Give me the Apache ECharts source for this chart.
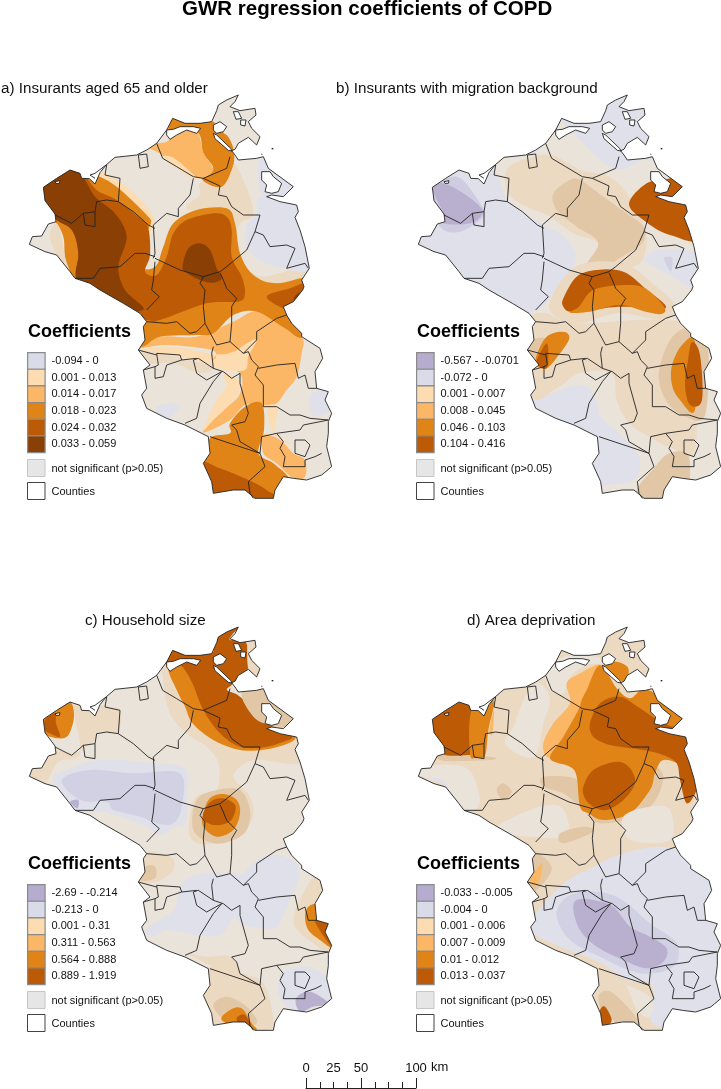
<!DOCTYPE html>
<html><head><meta charset="utf-8">
<style>html,body{margin:0;padding:0;background:#fff;overflow:hidden}#c{width:721px;height:1089px}</style>
<script src="https://cdn.jsdelivr.net/npm/echarts@6/dist/echarts.min.js"></script>
</head><body><div id="c"></div>
<script>
const colors={P:'#b9b0d0',Pl:'#cfcbe0',V:'#dfe0e9',Vd:'#d2d1e3',E:'#eae3d9',Em:'#ebd9c2',Ed:'#e2c7a7',L:'#fcdcb0',M:'#fbb765',O:'#e08417',B:'#bd5a05',D:'#8a3f05'};
const outline=[[88,493],[97,470],[125,468],[145,432],[168,425],[165,402],[135,362],[130,322],[170,295],[210,270],[240,280],[245,295],[268,296],[285,312],[300,278],[318,255],[345,232],[410,225],[440,210],[470,190],[500,150],[518,115],[555,130],[600,130],[635,125],[650,92],[655,75],[680,60],[715,45],[705,65],[690,80],[720,92],[765,85],[768,105],[745,125],[755,145],[780,170],[770,195],[745,172],[715,190],[705,208],[695,212],[705,225],[715,240],[770,235],[790,230],[805,265],[880,320],[850,350],[815,345],[800,350],[840,365],[890,375],[895,395],[885,412],[900,450],[915,500],[928,565],[905,600],[912,620],[908,630],[880,665],[850,680],[860,705],[875,730],[905,760],[905,770],[960,805],[968,835],[945,875],[950,925],[985,935],[975,960],[995,1000],[985,1025],[985,1060],[980,1100],[995,1160],[965,1185],[920,1200],[880,1195],[850,1190],[825,1230],[820,1255],[765,1255],[735,1230],[700,1230],[640,1240],[635,1205],[610,1150],[630,1120],[625,1070],[555,1035],[500,1015],[440,985],[425,945],[440,925],[430,870],[450,855],[415,810],[435,780],[430,740],[440,725],[420,700],[370,670],[300,630],[270,610],[225,595],[210,575],[170,525],[135,515]];
const holes=[[[500,150],[520,148],[540,140],[580,140],[602,145],[590,160],[560,150],[530,165],[510,178],[500,165]],[[640,135],[660,125],[680,140],[670,155],[650,160],[640,150]],[[640,160],[650,165],[692,205],[696,213],[685,211],[645,176]],[[785,275],[810,275],[820,290],[845,310],[835,335],[815,340],[795,335],[800,315],[785,300]],[[165,305],[180,302],[178,310],[168,310]],[[700,95],[715,95],[725,115],[708,118]],[[722,120],[738,120],[735,138],[722,135]]];
const specks=[[[815,204],[820,204],[820,208],[815,208]],[[784,221],[787,221],[787,224],[784,224]]];
const countyLines=[
[[470,190],[488,235],[530,260],[580,290],[610,295],[680,265],[690,230]],
[[610,295],[660,318],[655,345],[680,350],[695,380],[730,405],[780,405],[765,455],[790,465],[810,500],[860,495],[885,505],[860,565],[915,550],[925,565]],
[[580,295],[570,345],[535,385],[535,410],[500,400],[460,435],[465,520],[460,535]],
[[320,255],[315,285],[360,295],[355,365],[400,395],[445,435],[465,445]],
[[355,365],[320,360],[290,365],[285,395],[250,400],[215,430],[165,405]],
[[250,400],[255,435],[285,440],[285,395]],
[[465,530],[435,520],[405,520],[360,560],[300,565],[280,595],[225,595]],
[[465,535],[540,570],[610,590],[660,575],[680,560],[740,510],[765,455]],
[[465,545],[460,600],[455,630],[478,650],[440,690]],
[[440,725],[500,730],[530,725],[570,760],[590,755],[615,730],[610,680],[615,630],[600,610],[610,590]],
[[660,578],[670,600],[680,625],[710,655],[695,680],[695,730],[690,785]],
[[615,730],[650,795],[690,785],[730,820],[770,780],[770,755],[830,715],[860,705]],
[[730,820],[745,815],[755,840],[775,860],[765,885],[790,915],[790,980],[830,980],[870,1005],[900,1005],[930,1015],[985,1020]],
[[775,865],[830,855],[885,850],[895,895],[915,885],[925,925],[950,925]],
[[640,800],[635,820],[640,865],[595,835],[580,840],[590,880],[620,900],[665,875],[640,905],[600,970],[590,1015],[555,1030]],
[[640,865],[670,875],[695,895],[720,880],[720,910],[745,1000],[735,1025],[695,1035],[710,1050],[720,1085],[780,1120],[795,1160],[745,1205],[750,1240],[760,1255]],
[[780,1120],[785,1070],[830,1060],[900,1050],[910,1035],[985,1020]],
[[830,1060],[850,1085],[840,1105],[855,1130],[850,1160],[915,1160],[915,1140],[945,1130],[965,1120]],
[[630,1070],[660,1080],[720,1100],[780,1120]],
[[470,820],[540,825],[545,840],[500,855],[490,890],[465,895],[465,860],[475,855],[470,820]],
[[415,810],[470,825]],[[545,840],[590,835]],[[465,860],[430,870]],
[[885,1080],[915,1080],[930,1095],[915,1130],[885,1120],[885,1080]],
[[415,225],[440,222],[445,260],[420,265],[415,225]],
[[318,255],[285,280],[270,285],[285,295]]];

const bandsA=[
['Em',[[600,310],[650,290],[690,240],[730,300],[760,400],[720,430],[708,480],[725,540],[785,590],[930,560],[930,640],[720,620],[660,430],[560,385],[600,345]]],
['V',[[780,350],[900,370],[930,560],[850,565],[780,540],[742,500],[738,440],[770,400]]],
['V',[[785,235],[895,330],[790,350]]],
['V',[[930,950],[975,930],[990,990],[940,1005]]],
['V',[[465,985],[510,970],[540,980],[500,1015]]],
['O',[[505,150],[518,105],[560,125],[640,125],[700,215],[690,282],[660,322],[605,297],[640,265],[610,220],[595,160],[530,150]]],
['O',[[640,165],[680,165],[700,215]]],
['O',[[268,285],[290,268],[298,285],[280,296]]],
['M',[[440,200],[470,190],[500,185],[530,160],[590,155],[610,218],[640,270],[600,295],[560,270],[500,235],[470,215]]],
['L',[[490,232],[525,236],[590,295],[560,285]]],
['L',[[415,815],[500,800],[640,826],[650,855],[560,835],[470,818]]],
['Em',[[415,815],[470,818],[560,840],[640,860],[600,880],[520,850],[440,850]]],
['M',[[415,805],[480,770],[590,770],[700,725],[770,695],[860,745],[908,775],[905,820],[890,890],[860,930],[830,970],[800,975],[735,975],[690,1020],[610,1058],[640,1010],[715,950],[720,880],[640,850],[640,812],[500,795]]],
['L',[[480,795],[640,822],[700,815],[740,790],[770,780],[745,830],[735,870],[670,870],[630,850],[640,825]]],
['L',[[670,880],[715,900],[710,950],[640,1020],[610,1050],[650,960],[680,920]]],
['L',[[805,978],[835,985],[825,1055],[880,1095],[840,1078],[812,1040]]],
['L',[[290,285],[360,305],[460,410],[440,480],[435,560],[400,440]]],
['O',[[290,285],[350,320],[440,405],[452,432],[425,480],[420,550],[440,568],[470,555],[490,500],[520,430],[590,390],[680,385],[705,430],[720,520],[760,585],[830,610],[950,590],[950,670],[910,770],[855,745],[770,695],[700,705],[640,760],[590,765],[480,770],[425,800],[380,760],[250,640],[210,600],[195,530],[190,470],[165,425],[120,400],[100,300],[200,240],[260,265]]],
['Em',[[165,430],[180,450],[195,530],[212,585],[170,525],[150,470]]],
['B',[[240,270],[290,330],[350,360],[420,415],[445,445],[450,525],[435,575],[470,585],[500,530],[520,460],[560,420],[640,400],[680,410],[695,450],[695,530],[725,590],[735,640],[715,665],[620,670],[480,720],[440,720],[300,690],[230,610],[235,520],[215,440],[160,405],[120,320],[200,260]]],
['D',[[120,320],[200,260],[240,275],[285,350],[345,400],[380,470],[355,560],[375,630],[430,690],[300,680],[230,600],[235,520],[215,450],[160,410]]],
['D',[[548,555],[565,505],[600,490],[630,510],[650,565],[665,595],[640,608],[600,600],[555,575]]],
['B',[[800,650],[870,625],[930,610],[915,700],[860,690]]],
['D',[[880,655],[905,635],[905,665]]],
['O',[[610,1150],[630,1075],[690,1060],[690,1030],[735,980],[785,970],[792,1050],[775,1120],[820,1150],[870,1200],[870,1270],[600,1270]]],
['M',[[790,1065],[840,1080],[880,1120],[915,1140],[915,1190],[880,1195],[830,1150],[790,1120]]],
['B',[[600,1152],[660,1165],[745,1200],[800,1230],[830,1265],[600,1270]]]
];
const bandsB=[
['Pl',[[203,290],[273,370],[283,410],[213,455],[153,440],[120,340]]],
['P',[[128,320],[163,310],[223,340],[273,380],[278,405],[243,430],[163,430],[163,400]]],
['E',[[305,240],[330,300],[363,370],[455,430],[525,470],[560,530],[525,610],[470,670],[430,700],[400,740],[380,930],[430,960],[540,920],[595,920],[625,970],[635,1010],[700,1070],[750,1130],[745,1190],[705,1210],[640,1220],[650,1270],[830,1275],[1000,1250],[1000,300],[880,300],[778,240],[713,265],[663,260],[613,220],[563,170],[513,120],[490,130],[470,190],[420,225],[340,232]]],
['Em',[[353,270],[400,240],[485,225],[575,270],[660,290],[720,350],[770,450],[760,540],[700,570],[610,590],[553,590],[615,560],[628,490],[553,460],[483,410],[393,370],[353,330]]],
['Ed',[[493,340],[543,300],[573,300],[643,350],[713,400],[763,440],[758,490],[683,540],[653,565],[583,570],[628,490],[563,440],[503,390]]],
['B',[[720,370],[773,310],[843,295],[950,250],[950,470],[843,465],[763,420]]],
['V',[[768,540],[808,510],[880,510],[925,530],[915,620],[850,590]]],
['Vd',[[825,535],[850,535],[845,575]]],
['Em',[[423,730],[470,700],[560,730],[820,720],[900,770],[920,1100],[840,1100],[780,1070],[720,1030],[683,960],[668,880],[570,880],[510,920],[430,950]]],
['Em',[[480,680],[560,560],[700,550],[790,610],[860,680],[820,720],[690,700],[560,730]]],
['B',[[523,655],[563,590],[623,570],[703,575],[768,625],[830,685],[700,680],[600,690],[543,695],[523,680]]],
['O',[[613,630],[703,615],[768,625],[825,680],[818,702],[770,695],[693,675],[603,695],[543,698],[570,680]]],
['Ed',[[413,795],[443,775],[473,780],[448,830],[423,825]]],
['O',[[443,825],[473,770],[523,755],[541,775],[513,820],[473,865],[443,855]]],
['B',[[443,850],[453,820],[473,790],[478,820],[473,865]]],
['Ed',[[860,760],[810,870],[830,960],[890,1010],[950,1000],[950,760]]],
['O',[[879,795],[918,786],[918,990],[873,960],[849,915],[849,855]]],
['B',[[909,786],[933,825],[939,960],[903,975],[888,915],[897,840]]],
['Ed',[[745,1225],[790,1170],[840,1120],[900,1130],[880,1270],[750,1270]]],
['Ed',[[770,1240],[840,1190],[880,1190],[880,1270],[780,1270]]]
];
const bandsC=[
['Em',[[225,275],[320,290],[360,300],[355,365],[300,365],[280,395],[220,430],[150,420],[100,470],[80,495],[130,525],[175,455],[240,430]]],
['O',[[170,300],[210,275],[222,320],[205,375],[175,385],[135,370],[130,320]]],
['B',[[135,330],[165,310],[168,340],[180,380],[150,370],[135,360]]],
['V',[[160,510],[200,480],[300,450],[440,458],[555,475],[560,560],[555,640],[525,650],[480,675],[440,650],[360,620],[300,605],[230,600]]],
['Vd',[[185,510],[270,480],[400,490],[540,490],[545,590],[520,640],[470,640],[420,620],[340,600],[320,575],[240,570]]],
['P',[[210,575],[235,570],[232,595]]],
['Em',[[490,210],[510,310],[560,370],[620,410],[655,460],[650,540],[585,565],[570,680],[640,700],[750,640],[750,560],[700,500],[760,450],[900,460],[900,380],[520,160]]],
['Ed',[[590,570],[650,540],[720,540],[750,600],[740,660],[700,690],[640,700],[580,660]]],
['O',[[505,175],[530,240],[555,290],[578,340],[640,390],[720,420],[800,418],[875,395],[880,370],[800,340],[700,260],[620,170],[540,150]]],
['B',[[500,170],[518,110],[560,130],[640,125],[650,180],[700,215],[680,240],[720,260],[810,345],[875,378],[850,395],[790,412],[720,410],[660,370],[610,300],[575,215],[540,165]]],
['B',[[635,85],[680,55],[725,45],[700,70],[690,90],[735,90],[745,170],[710,220],[650,185],[640,120]]],
['Em',[[745,85],[775,80],[770,115],[745,125],[780,170],[775,200],[745,178]]],
['Ed',[[725,250],[790,235],[890,320],[880,350],[810,345],[760,320]]],
['O',[[610,610],[630,565],[670,552],[710,570],[720,610],[700,660],[650,680],[610,650]]],
['B',[[610,610],[632,575],[670,565],[705,585],[700,620],[680,640],[640,645],[612,630]]],
['Em',[[430,730],[510,740],[520,780],[470,815],[415,810]]],
['Ed',[[435,770],[465,770],[465,805],[420,810]]],
['V',[[440,955],[520,900],[545,820],[610,790],[700,790],[730,790],[770,750],[830,735],[890,760],[895,810],[870,870],[830,950],[790,955],[730,945],[700,925],[660,975],[590,975],[500,960],[460,980]]],
['V',[[845,1090],[900,1070],[950,1080],[995,1120],[995,1170],[950,1190],[900,1205],[860,1190],[835,1150]]],
['P',[[888,1165],[930,1145],[985,1180],[940,1190],[900,1205]]],
['Em',[[610,1150],[630,1070],[720,1090],[790,1120],[820,1230],[800,1260],[640,1260]]],
['Em',[[560,1030],[620,1040],[690,1040],[720,1090],[640,1070],[600,1050]]],
['Ed',[[640,1190],[680,1160],[740,1190],[770,1240],[700,1250]]],
['O',[[665,1230],[690,1200],[725,1195],[755,1240],[770,1260],[730,1260]]],
['B',[[710,1225],[735,1215],[755,1260],[725,1255]]],
['Em',[[880,930],[940,800],[975,810],[970,880],[1000,1025],[940,1000]]],
['O',[[915,920],[925,890],[950,885],[955,930],[995,1010],[960,990],[925,960]]],
['B',[[945,930],[985,940],[980,970],[995,1010],[965,970]]]
];
const bandsD=[
['E',[[265,490],[320,465],[410,475],[445,540],[445,590],[410,600],[380,570],[340,520],[300,510]]],
['V',[[290,505],[340,510],[365,560],[345,525]]],
['E',[[590,250],[630,220],[660,270],[640,340],[620,430],[580,440],[525,400],[550,350]]],
['E',[[650,190],[700,140],[800,140],[820,160],[770,165],[720,200],[700,250],[660,240]]],
['Ed',[[330,430],[480,440],[480,450],[340,452]]],
['Ed',[[500,540],[520,520],[545,545],[520,570]]],
['B',[[300,320],[345,285],[410,265],[425,300],[440,435],[420,435],[345,435],[335,400],[300,370]]],
['O',[[425,300],[490,270],[475,360],[465,437],[440,442],[420,432]]],
['M',[[478,360],[492,300],[487,372]]],
['M',[[710,220],[750,190],[810,165],[770,240],[750,300],[720,370],[690,440],[650,440],[640,400],[670,340],[720,280]]],
['Ed',[[770,610],[810,640],[900,625],[970,580],[1000,500],[970,470],[960,540],[900,610],[820,630]]],
['Ed',[[640,500],[745,510],[760,590],[700,550],[640,530]]],
['O',[[660,445],[700,380],[745,300],[755,270],[770,240],[810,165],[860,235],[900,265],[940,245],[985,340],[1020,330],[1060,340],[1100,380],[1120,400],[1100,480],[1100,520],[1060,470],[1000,450],[975,490],[960,540],[900,610],[820,630],[775,610],[750,590],[740,500],[720,470]]],
['O',[[930,250],[955,240],[1030,290],[1090,360],[1060,370],[1000,340]]],
['B',[[780,340],[810,280],[870,260],[930,295],[1000,340],[1060,360],[1100,400],[1115,470],[1100,540],[1070,580],[1050,510],[1040,460],[1000,435],[940,420],[840,405],[790,380]]],
['B',[[760,530],[790,480],[860,455],[900,475],[915,520],[880,570],[830,600],[790,590],[765,565]]],
['Em',[[810,150],[900,150],[950,170],[900,175],[880,165]]],
['O',[[820,165],[860,155],[895,175],[885,215],[850,200],[820,190]]],
['E',[[490,660],[600,600],[680,585],[710,620],[710,680],[600,680]]],
['E',[[880,620],[960,590],[1020,600],[1020,690],[900,690]]],
['Ed',[[690,670],[760,650],[790,665],[700,700]]],
['V',[[600,950],[690,830],[790,770],[880,730],[1000,710],[1120,740],[1175,800],[1175,1250],[990,1250],[960,1210],[970,1170],[960,1120],[890,1110],[830,1070],[770,1040],[690,1010]]],
['Vd',[[680,920],[700,870],[760,845],[860,860],[960,940],[1040,1000],[1030,1070],[930,1090],[810,1040],[720,990]]],
['P',[[730,900],[740,870],[790,870],[850,890],[900,950],[960,980],[1010,1015],[1000,1055],[950,1075],[880,1050],[800,1010],[750,960]]],
['E',[[850,1110],[960,1160],[960,1220],[920,1200],[890,1130]]],
['Ed',[[810,1150],[850,1150],[930,1240],[880,1255],[840,1220],[810,1190]]],
['B',[[810,1200],[825,1190],[845,1230],[825,1250],[810,1235]]],
['Ed',[[610,730],[640,740],[665,780],[620,840],[595,825],[600,780]]],
['M',[[600,810],[635,760],[630,810],[615,830]]]
];

const panels=[
{x:0,y:80,w:1020,du:0,dv:0,base:'E',bands:bandsA},
{x:389,y:80,w:996,du:0,dv:0,base:'V',bands:bandsB},
{x:0,y:612,w:1020,du:0,dv:-6,base:'E',bands:bandsC},
{x:389,y:612,w:996,du:-177,dv:-6,base:'Em',bands:bandsD}
];
const panelTitles=['a) Insurants aged 65 and older','b) Insurants with migration background','c) Household size','d) Area deprivation'];
const legendTitle='Coefficients';
const labelsA=['-0.094 - 0','0.001 - 0.013','0.014 - 0.017','0.018 - 0.023','0.024 - 0.032','0.033 - 0.059'];
const labelsB=['-0.567 - -0.0701','-0.072 - 0','0.001 - 0.007','0.008 - 0.045','0.046 - 0.103','0.104 - 0.416'];
const labelsC=['-2.69 - -0.214','-0.213 - 0','0.001 - 0.31','0.311 - 0.563','0.564 - 0.888','0.889 - 1.919'];
const labelsD=['-0.033 - -0.005','-0.004 - 0','0.001 - 0.006','0.007 - 0.009','0.01 - 0.012','0.013 - 0.037'];
const swatchA=['#d9dbe9','#fcdcb0','#fbb765','#e08417','#bd5a05','#8a3f05'];
const swatchRest=['#b5acd0','#d9dbe9','#fcdcb0','#fbb765','#e08417','#bd5a05'];
const legends=[{x:27,y:352,labels:labelsA,sw:swatchA},{x:416,y:352,labels:labelsB,sw:swatchRest},{x:27,y:884,labels:labelsC,sw:swatchRest},{x:416,y:884,labels:labelsD,sw:swatchRest}];
const scaleLabels={0:'0',25:'25',50:'50',100:'100'};

const H=1340;
function rounded(pts){
  const out=[],n=pts.length,steps=8;
  for(let i=0;i<n;i++){
    const a=pts[(i-1+n)%n],b=pts[i],c=pts[(i+1)%n],d=pts[(i+2)%n];
    for(let k=0;k<steps;k++){
      const t=k/steps,t2=t*t,t3=t2*t;
      const f=j=>0.5*(2*b[j]+(c[j]-a[j])*t+(2*a[j]-5*b[j]+4*c[j]-d[j])*t2+(3*b[j]-a[j]-3*c[j]+d[j])*t3);
      out.push([f(0),f(1)]);
    }
  }
  return out;
}
function shapesFor(p){
  const s=[];
  s.push({pts:outline,fill:colors[p.base]});
  p.bands.forEach(b=>s.push({pts:rounded(b[1].map(q=>[q[0]+p.du,q[1]+p.dv])),fill:colors[b[0]]}));
  const ring=[[0,0],[p.w,0],[p.w,H],[0,H],[0,493]].concat([[88,493]],outline.slice().reverse(),[[0,493]]);
  s.push({pts:ring,fill:'#fff'});
  holes.forEach(h=>s.push({pts:h,fill:'#fff',stroke:'#222'}));
  specks.forEach(h=>s.push({pts:h,fill:'#222'}));
  countyLines.forEach(l=>s.push({pts:l,line:true}));
  s.push({pts:outline,stroke:'#222'});
  return s;
}
const grids=[],xAxes=[],yAxes=[],series=[],titles=[],graphics=[];
panels.forEach((p,i)=>{
  grids.push({left:p.x,top:p.y,width:p.w/3,height:H/3});
  xAxes.push({type:'value',gridIndex:i,min:0,max:p.w,show:false});
  yAxes.push({type:'value',gridIndex:i,min:0,max:H,inverse:true,show:false});
  const shapes=shapesFor(p);
  series.push({type:'custom',xAxisIndex:i,yAxisIndex:i,coordinateSystem:'cartesian2d',silent:true,clip:false,z:2,
    data:shapes.map(()=>[0,0]),
    renderItem(params,api){
      const d=shapes[params.dataIndex];
      const pts=d.pts.map(q=>api.coord(q));
      if(d.line) return {type:'polyline',shape:{points:pts},style:{fill:null,stroke:'#222',lineWidth:0.9}};
      return {type:'polygon',shape:{points:pts},style:{fill:d.fill||null,stroke:d.stroke||null,lineWidth:0.9}};
    }});
});
grids.push({left:306,top:1078,width:110,height:10});
xAxes.push({type:'value',gridIndex:4,position:'bottom',min:0,max:100,interval:50,axisLine:{show:true,lineStyle:{color:'#222',width:1}},axisTick:{show:true,inside:true,length:10,lineStyle:{color:'#222'}},minorTick:{show:true,splitNumber:4,length:6,lineStyle:{color:'#222'}},axisLabel:{show:false},splitLine:{show:false}});
xAxes.push({type:'value',gridIndex:4,position:'top',min:0,max:100,interval:25,axisLine:{show:false},axisTick:{show:false},splitLine:{show:false},axisLabel:{show:true,margin:3,color:'#111',fontSize:13,fontFamily:'Liberation Sans',formatter:v=>scaleLabels[v]||''}});
yAxes.push({type:'value',gridIndex:4,min:0,max:1,show:false});
series.push({type:'line',xAxisIndex:4,yAxisIndex:4,data:[],silent:true});
series.push({type:'line',xAxisIndex:5,yAxisIndex:4,data:[],silent:true});

const ff='Liberation Sans';
titles.push({text:'GWR regression coefficients of COPD',left:182,top:-1,textStyle:{fontSize:20.5,fontWeight:'bold',color:'#000',fontFamily:ff},padding:0});
[[1,81],[336,81],[85,613],[467,613]].forEach((t,i)=>titles.push({text:panelTitles[i],left:t[0],top:t[1],padding:0,textStyle:{fontSize:15.2,fontWeight:'normal',color:'#111',fontFamily:ff}}));
legends.forEach(l=>{
  graphics.push({type:'text',left:l.x+1,top:l.y-29,z:100,style:{text:legendTitle,fontSize:18,fontWeight:'bold',fill:'#000',fontFamily:ff}});
  l.labels.forEach((t,k)=>{
    graphics.push({type:'rect',left:l.x,top:l.y+k*16.67,z:100,shape:{width:17.5,height:16.67},style:{fill:l.sw[k],stroke:'#8a8a8a',lineWidth:1.2}});
    graphics.push({type:'text',left:l.x+24.5,top:l.y+k*16.67+3.5,z:100,style:{text:t,fontSize:11,fill:'#111',fontFamily:ff}});
  });
  graphics.push({type:'rect',left:l.x,top:l.y+107,z:100,shape:{width:17.5,height:17},style:{fill:'#e6e6e6',stroke:'#c6c6c6',lineWidth:1}});
  graphics.push({type:'text',left:l.x+24.5,top:l.y+111,z:100,style:{text:'not significant (p>0.05)',fontSize:11,fill:'#111',fontFamily:ff}});
  graphics.push({type:'rect',left:l.x,top:l.y+130,z:100,shape:{width:17.5,height:17},style:{fill:'#fff',stroke:'#444',lineWidth:1}});
  graphics.push({type:'text',left:l.x+24.5,top:l.y+134,z:100,style:{text:'Counties',fontSize:11,fill:'#111',fontFamily:ff}});
});
graphics.push({type:'text',left:431,top:1060.5,z:100,style:{text:'km',fontSize:13,fill:'#111',fontFamily:ff}});

const chart=echarts.init(document.getElementById('c'),null,{renderer:'canvas'});
chart.setOption({animation:false,backgroundColor:'#fff',title:titles,grid:grids,xAxis:xAxes,yAxis:yAxes,series:series,graphic:graphics,tooltip:{show:false}});
</script></body></html>
